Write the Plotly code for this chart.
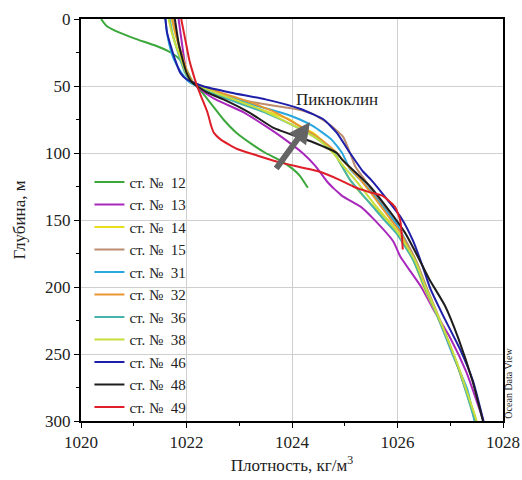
import plotly.graph_objects as go

# --- data: depth (m) and density (kg/m3) per station ---
st12_depth = [0, 5, 10, 15, 20, 25, 30, 35, 40, 47, 55, 65, 75, 85, 95, 100, 105, 110, 117, 126]
st12_dens = [1020.38, 1020.48, 1020.72, 1021.05, 1021.42, 1021.7, 1021.87, 1021.96, 1022.03, 1022.12, 1022.3, 1022.5, 1022.7, 1022.95, 1023.3, 1023.5, 1023.75, 1023.95, 1024.15, 1024.3]

st13_depth = [0, 20, 40, 47, 55, 60, 70, 80, 88, 100, 110, 122, 132, 140, 149, 166, 177, 200, 216, 238, 263, 300]
st13_dens = [1021.85, 1021.92, 1022.0, 1022.1, 1022.35, 1022.55, 1023.1, 1023.5, 1023.8, 1024.2, 1024.45, 1024.68, 1024.95, 1025.3, 1025.54, 1025.92, 1026.05, 1026.45, 1026.67, 1027.0, 1027.3, 1027.63]

st14_depth = [0, 10, 20, 30, 40, 47, 55, 60, 65, 70, 75, 80, 85, 90, 100, 110, 120, 130, 140, 150, 160, 180, 200, 230, 260, 300]
st14_dens = [1021.72, 1021.78, 1021.85, 1021.92, 1022.0, 1022.1, 1022.5, 1022.85, 1023.2, 1023.6, 1023.95, 1024.15, 1024.4, 1024.55, 1024.8, 1024.95, 1025.1, 1025.3, 1025.55, 1025.8, 1026.0, 1026.3, 1026.5, 1026.85, 1027.15, 1027.5]

st15_depth = [0, 10, 20, 30, 40, 47, 55, 60, 64, 67, 71, 79, 88, 100, 110, 120, 130, 140, 150, 160, 180, 200, 230, 260, 300]
st15_dens = [1021.74, 1021.8, 1021.86, 1021.93, 1022.0, 1022.1, 1022.55, 1023.0, 1023.55, 1024.05, 1024.4, 1024.72, 1024.97, 1025.1, 1025.2, 1025.38, 1025.55, 1025.75, 1025.92, 1026.08, 1026.35, 1026.55, 1026.86, 1027.15, 1027.49]

st31_depth = [0, 10, 20, 30, 40, 47, 55, 60, 65, 70, 75, 80, 90, 100, 112, 120, 129, 140, 154, 170, 189, 210, 226, 251, 276, 300]
st31_dens = [1021.6, 1021.63, 1021.68, 1021.76, 1021.9, 1022.05, 1022.5, 1022.95, 1023.35, 1023.8, 1024.15, 1024.4, 1024.75, 1024.95, 1025.1, 1025.3, 1025.5, 1025.72, 1026.0, 1026.2, 1026.4, 1026.63, 1026.8, 1027.05, 1027.32, 1027.46]

st32_depth = [0, 10, 20, 30, 40, 47, 55, 60, 65, 70, 80, 90, 100, 107, 120, 130, 149, 159, 180, 200, 230, 260, 300]
st32_dens = [1021.73, 1021.79, 1021.86, 1021.94, 1022.02, 1022.12, 1022.65, 1023.05, 1023.4, 1023.7, 1024.15, 1024.55, 1024.85, 1025.0, 1025.3, 1025.5, 1025.86, 1026.05, 1026.32, 1026.52, 1026.85, 1027.15, 1027.49]

st36_depth = [0, 10, 20, 30, 40, 47, 55, 60, 65, 70, 80, 90, 100, 110, 120, 134, 150, 160, 180, 200, 230, 260, 300]
st36_dens = [1021.68, 1021.73, 1021.8, 1021.88, 1021.97, 1022.08, 1022.45, 1022.8, 1023.15, 1023.5, 1024.05, 1024.5, 1024.8, 1024.95, 1025.1, 1025.4, 1025.75, 1025.98, 1026.3, 1026.52, 1026.85, 1027.15, 1027.47]

st38_depth = [0, 10, 20, 30, 40, 47, 55, 60, 65, 70, 80, 90, 100, 110, 120, 130, 140, 150, 160, 180, 200, 230, 260, 300]
st38_dens = [1021.66, 1021.72, 1021.8, 1021.9, 1021.99, 1022.1, 1022.55, 1022.9, 1023.25, 1023.55, 1024.05, 1024.5, 1024.78, 1024.98, 1025.2, 1025.4, 1025.6, 1025.82, 1026.02, 1026.33, 1026.53, 1026.86, 1027.16, 1027.5]

st46_depth = [0, 10, 20, 30, 40, 45, 50, 55, 60, 67, 75, 85, 100, 114, 120, 137, 149, 166, 185, 201, 221, 246, 270, 300]
st46_dens = [1021.6, 1021.63, 1021.7, 1021.78, 1021.88, 1022.0, 1022.3, 1022.85, 1023.5, 1024.15, 1024.6, 1024.85, 1025.1, 1025.35, 1025.5, 1025.85, 1026.08, 1026.3, 1026.48, 1026.62, 1026.86, 1027.18, 1027.43, 1027.63]

st48_depth = [0, 20, 40, 47, 55, 60, 70, 81, 92, 100, 105, 125, 144, 160, 180, 194, 214, 238, 270, 300]
st48_dens = [1021.78, 1021.86, 1022.0, 1022.1, 1022.4, 1022.7, 1023.2, 1023.64, 1024.4, 1024.85, 1024.95, 1025.48, 1025.86, 1026.15, 1026.42, 1026.6, 1026.9, 1027.15, 1027.42, 1027.62]

st49_depth = [0, 10, 20, 30, 40, 50, 60, 70, 80, 85, 90, 97, 102, 107, 114, 120, 125, 129, 132, 140, 150, 160, 172]
st49_dens = [1021.9, 1021.95, 1022.0, 1022.05, 1022.12, 1022.2, 1022.3, 1022.4, 1022.47, 1022.52, 1022.65, 1022.96, 1023.35, 1023.77, 1024.53, 1024.9, 1025.16, 1025.45, 1025.72, 1025.95, 1026.05, 1026.08, 1026.1]

stations = ["12", "13", "14", "15", "31", "32", "36", "38", "46", "48", "49"]
depths = [st12_depth, st13_depth, st14_depth, st15_depth, st31_depth, st32_depth,
          st36_depth, st38_depth, st46_depth, st48_depth, st49_depth]
denss = [st12_dens, st13_dens, st14_dens, st15_dens, st31_dens, st32_dens,
         st36_dens, st38_dens, st46_dens, st48_dens, st49_dens]
colors = ["rgb(60,168,60)", "rgb(168,40,188)", "rgb(232,222,30)", "rgb(188,140,112)",
          "rgb(40,168,222)", "rgb(232,150,50)", "rgb(70,180,170)", "rgb(200,222,60)",
          "rgb(30,30,168)", "rgb(30,30,30)", "rgb(222,30,40)"]

FONT = "Liberation Serif, Times New Roman, serif"

fig = go.Figure()
for name, d, x, c in zip(stations, depths, denss, colors):
    fig.add_trace(go.Scatter(
        x=x, y=d, mode="lines", name="ст. №\u00a0\u00a0" + name,
        line=dict(color=c, width=2, shape="spline", smoothing=0.5),
    ))

fig.update_layout(
    width=522, height=480,
    margin=dict(l=81, r=19, t=19, b=59, autoexpand=False),
    paper_bgcolor="white", plot_bgcolor="white",
    font=dict(family=FONT, size=16, color="#222"),
    showlegend=True,
    legend=dict(x=0.02, y=0.635, xanchor="left", yanchor="top",
                bgcolor="rgba(0,0,0,0)", font=dict(family=FONT, size=15, color="#222"),
                itemwidth=30, tracegroupgap=0),
)
fig.update_xaxes(
    range=[1020, 1028], dtick=2, tick0=1020,
    showline=True, linecolor="black", linewidth=2, mirror=True,
    ticks="outside", ticklen=5, tickcolor="black",
    minor=dict(dtick=1, ticks="outside", ticklen=3, tickcolor="black", showgrid=False),
    showgrid=True, gridcolor="#cfcfcf", gridwidth=1, zeroline=False,
    title=dict(text="Плотность, кг/м<sup>3</sup>", font=dict(family=FONT, size=17), standoff=8),
    tickfont=dict(family=FONT, size=17),
)
fig.update_yaxes(
    range=[300, 0], dtick=50, tick0=0,
    showline=True, linecolor="black", linewidth=2, mirror=True,
    ticks="outside", ticklen=5, tickcolor="black",
    minor=dict(dtick=25, ticks="outside", ticklen=3, tickcolor="black", showgrid=False),
    showgrid=True, gridcolor="#cfcfcf", gridwidth=1, zeroline=False,
    title=dict(text="Глубина, м", font=dict(family=FONT, size=17)),
    tickfont=dict(family=FONT, size=17),
)

fig.add_annotation(
    x=1024.34, y=77, ax=1023.68, ay=112.7, xref="x", yref="y", axref="x", ayref="y",
    showarrow=True, arrowhead=2, arrowsize=0.7, arrowwidth=6, arrowcolor="rgb(100,100,100)",
    text="",
)
fig.add_annotation(
    x=1024.85, y=60, xref="x", yref="y", text="Пикноклин", showarrow=False,
    font=dict(family=FONT, size=17, color="#222"),
)
fig.add_annotation(
    x=1.03, y=0.0, xref="paper", yref="paper", yanchor="bottom", text="Ocean Data View",
    showarrow=False, textangle=-90, font=dict(family=FONT, size=10, color="#222"),
)

fig.write_html("out.html")
